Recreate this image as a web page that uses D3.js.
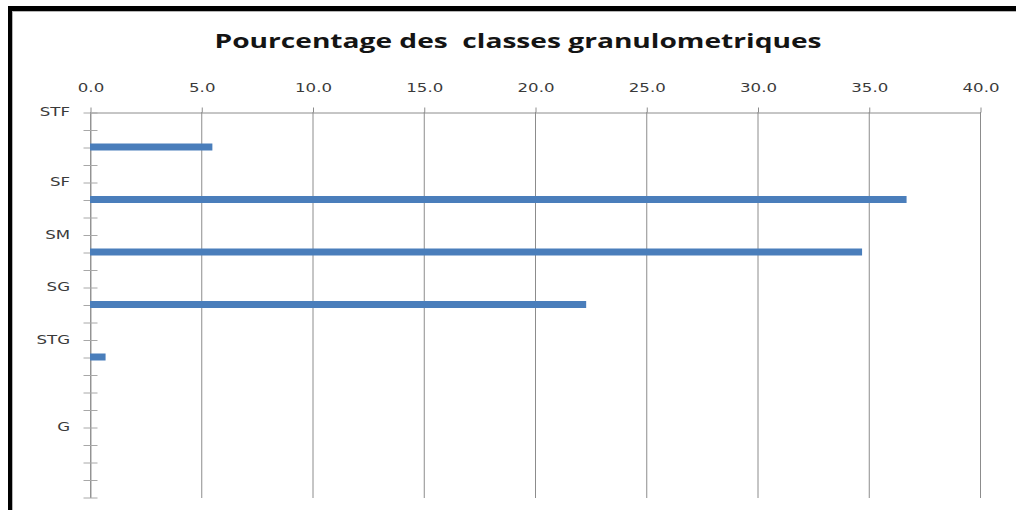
<!DOCTYPE html>
<html>
<head>
<meta charset="utf-8">
<script src="https://cdn.jsdelivr.net/npm/d3@7"></script>
<style>
  html, body { margin: 0; padding: 0; background: #fff; }
  svg { display: block; }
</style>
</head>
<body>
<svg id="chart" width="1016" height="510"></svg>
<script>
// Category axis slots (labelled classes plus unlabelled spacer rows)
const categories = ["STF", "", "", "", "SF", "", "", "SM", "", "", "SG", "", "", "STG", "", "", "", "", "G", "", "", "", ""];
// Percentage per slot (null = no bar)
const values = [null, null, 5.5, null, null, 36.7, null, null, 34.7, null, null, 22.3, null, null, 0.7, null, null, null, null, null, null, null, null];
const xTicks = [0, 5, 10, 15, 20, 25, 30, 35, 40];
const title = "Pourcentage des  classes granulometriques";

const svg = d3.select("#chart");
const W = 1016, H = 510;
const plotLeft = 90, plotRight = 980, plotTop = 112, plotBottom = 497;
const stretch = 1.33;               // wide lettering of the labels
const font = "'DejaVu Sans', sans-serif";

svg.append("rect").attr("width", W).attr("height", H).attr("fill", "#fff");

// Frame (top and left edges)
svg.append("rect").attr("x", 8).attr("y", 6).attr("width", W - 8).attr("height", 5).attr("fill", "#000");
svg.append("rect").attr("x", 8).attr("y", 6).attr("width", 4).attr("height", H - 6).attr("fill", "#000");
svg.append("line").attr("x1", 12).attr("x2", W).attr("y1", 11.5).attr("y2", 11.5).attr("stroke", "#b5b5b5");
svg.append("line").attr("x1", 12.5).attr("x2", 12.5).attr("y1", 11).attr("y2", H).attr("stroke", "#b5b5b5");

const x = d3.scaleLinear().domain([0, 40]).range([plotLeft, plotRight]);
const y = d3.scalePoint().domain(d3.range(categories.length)).range([plotTop, plotBottom]);

// Vertical gridlines
svg.append("g").selectAll("line").data(xTicks).join("line")
  .attr("x1", d => x(d) + 0.5).attr("x2", d => x(d) + 0.5)
  .attr("y1", plotTop).attr("y2", plotBottom + 1)
  .attr("stroke", "#8c8c8c").attr("stroke-width", 1);

// Top value axis
const gx = svg.append("g").attr("transform", `translate(0.5,${plotTop + 0.5})`)
  .call(d3.axisTop(x).tickValues(xTicks).tickFormat(d3.format(".1f"))
    .tickSizeInner(5).tickSizeOuter(0).tickPadding(16));
gx.select(".domain").attr("stroke", "#8c8c8c");
gx.selectAll(".tick line").attr("stroke", "#8c8c8c");
gx.selectAll(".tick text")
  .attr("font-family", font).attr("font-size", 12.5).attr("fill", "#3a3a3a")
  .attr("transform", `scale(${stretch},1)`);

// Left category axis with crossing ticks
const gy = svg.append("g").attr("transform", `translate(${plotLeft + 0.5},0.5)`)
  .call(d3.axisLeft(y).tickFormat(i => categories[i])
    .tickSizeInner(7).tickSizeOuter(0).tickPadding(8.4));
gy.select(".domain").attr("stroke", "#9a9a9a");
gy.selectAll(".tick line").attr("x1", 7).attr("stroke", "#a8a8a8");
gy.selectAll(".tick text")
  .attr("font-family", font).attr("font-size", 12.5).attr("fill", "#3a3a3a")
  .attr("dy", "0.26em")
  .attr("transform", `scale(${stretch},1)`);

// Bars
const barH = 7;
const rows = values.map((v, i) => ({ i, v })).filter(d => d.v !== null);
svg.append("g").selectAll("rect").data(rows).join("rect")
  .attr("x", x(0)).attr("y", d => y(d.i) - barH / 2)
  .attr("width", d => x(d.v) - x(0)).attr("height", barH)
  .attr("fill", "#4a7ebb");

// Title
svg.append("text")
  .attr("x", 518).attr("y", 47.5)
  .attr("text-anchor", "middle")
  .attr("font-family", "'Open Sans', sans-serif").attr("font-weight", "bold")
  .attr("font-size", 19).attr("fill", "#141414")
  .style("white-space", "pre")
  .attr("textLength", 607).attr("lengthAdjust", "spacingAndGlyphs")
  .text(title);
</script>
</body>
</html>
